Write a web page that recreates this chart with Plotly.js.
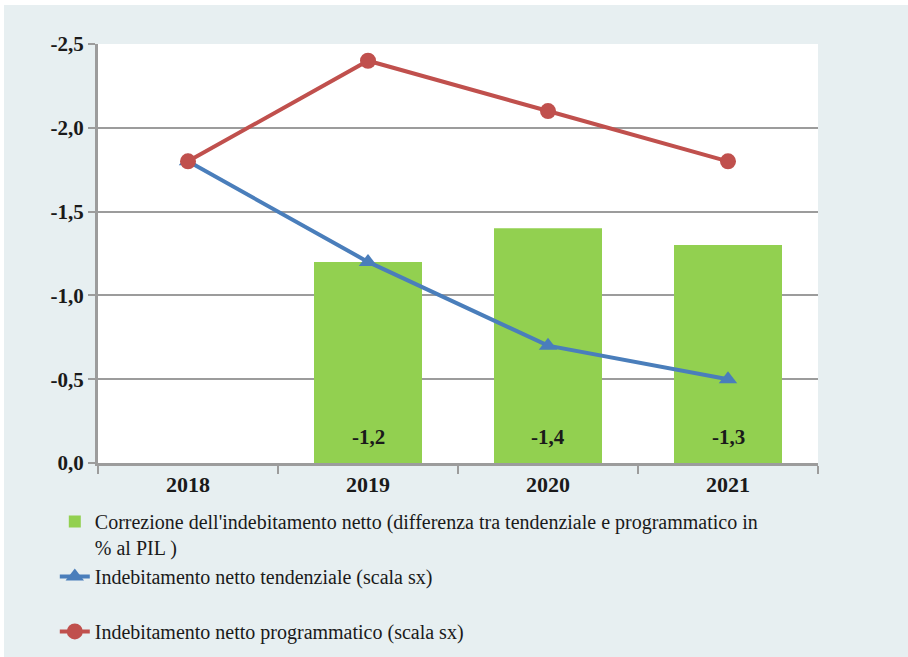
<!DOCTYPE html>
<html>
<head>
<meta charset="utf-8">
<script src="https://cdn.plot.ly/plotly-3.0.1.min.js"></script>
<style>
  html, body { margin: 0; padding: 0; background: #ffffff; width: 908px; height: 657px; overflow: hidden; }
  #chart { position: absolute; left: 4px; top: 5px; width: 904px; height: 672px; }
</style>
</head>
<body>
<div id="chart"></div>
<script>
const years = ['2018', '2019', '2020', '2021'];
const correzione = [null, -1.2, -1.4, -1.3];
const tendenziale = [-1.8, -1.2, -0.7, -0.5];
const programmatico = [-1.8, -2.4, -2.1, -1.8];
const yTicks = [0, -0.5, -1.0, -1.5, -2.0, -2.5];

const nameBar = "Correzione dell'indebitamento netto (differenza tra tendenziale e programmatico in<br>% al PIL )";
const nameTend = "Indebitamento netto tendenziale (scala sx)<br> ";
const nameProg = "Indebitamento netto programmatico (scala sx)";

const fmt = v => v.toFixed(1).replace('.', ',');
const serif = 'Liberation Serif';
const gridGray = '#9c9c9c';

const traces = [
  {
    type: 'bar', x: years, y: correzione, name: nameBar,
    marker: { color: '#92d050' }, width: 0.6, hoverinfo: 'skip'
  },
  {
    type: 'scatter', mode: 'lines+markers', x: years, y: tendenziale, name: nameTend,
    line: { color: '#4a7ebb', width: 4 },
    marker: { symbol: 'triangle-up', size: 16, color: '#4a7ebb' }, hoverinfo: 'skip'
  },
  {
    type: 'scatter', mode: 'lines+markers', x: years, y: programmatico, name: nameProg,
    line: { color: '#c0504d', width: 4 },
    marker: { symbol: 'circle', size: 16, color: '#c0504d' }, hoverinfo: 'skip'
  }
];

const annotations = [];
years.forEach((yr, i) => {
  if (correzione[i] !== null) {
    annotations.push({
      x: i, y: 0, xref: 'x', yref: 'y', yanchor: 'bottom', yshift: 12,
      text: fmt(correzione[i]), showarrow: false,
      font: { family: serif, size: 21, color: '#1a1a1a', weight: 'bold' }
    });
  }
});

const layout = {
  width: 904, height: 672,
  margin: { l: 94, r: 90, t: 39, b: 214 },
  paper_bgcolor: '#e7eff1',
  plot_bgcolor: '#ffffff',
  separators: ',.',
  showlegend: true,
  xaxis: {
    type: 'category',
    range: [-0.5, years.length - 0.5],
    tickson: 'boundaries', ticks: 'outside', ticklen: 8, tickwidth: 2, tickcolor: gridGray,
    showline: true, linecolor: gridGray, linewidth: 3,
    showgrid: false,
    tickfont: { family: serif, size: 22, color: '#1a1a1a', weight: 'bold' }
  },
  yaxis: {
    range: [0, -2.5],
    tickvals: yTicks, ticktext: yTicks.map(fmt),
    ticks: 'outside', ticklen: 7, tickwidth: 2, tickcolor: gridGray,
    showline: true, linecolor: gridGray, linewidth: 3,
    showgrid: true, gridcolor: gridGray, gridwidth: 2,
    zeroline: false,
    tickfont: { family: serif, size: 21, color: '#1a1a1a', weight: 'bold' }
  },
  legend: {
    x: -0.06, xanchor: 'left', y: -0.093, yanchor: 'top',
    orientation: 'v', valign: 'top', traceorder: 'normal',
    bgcolor: 'rgba(0,0,0,0)',
    font: { family: serif, size: 20, color: '#1a1a1a' }
  },
  annotations: annotations,
  bargap: 0.4
};

Plotly.newPlot('chart', traces, layout, { displayModeBar: false });
</script>
</body>
</html>
